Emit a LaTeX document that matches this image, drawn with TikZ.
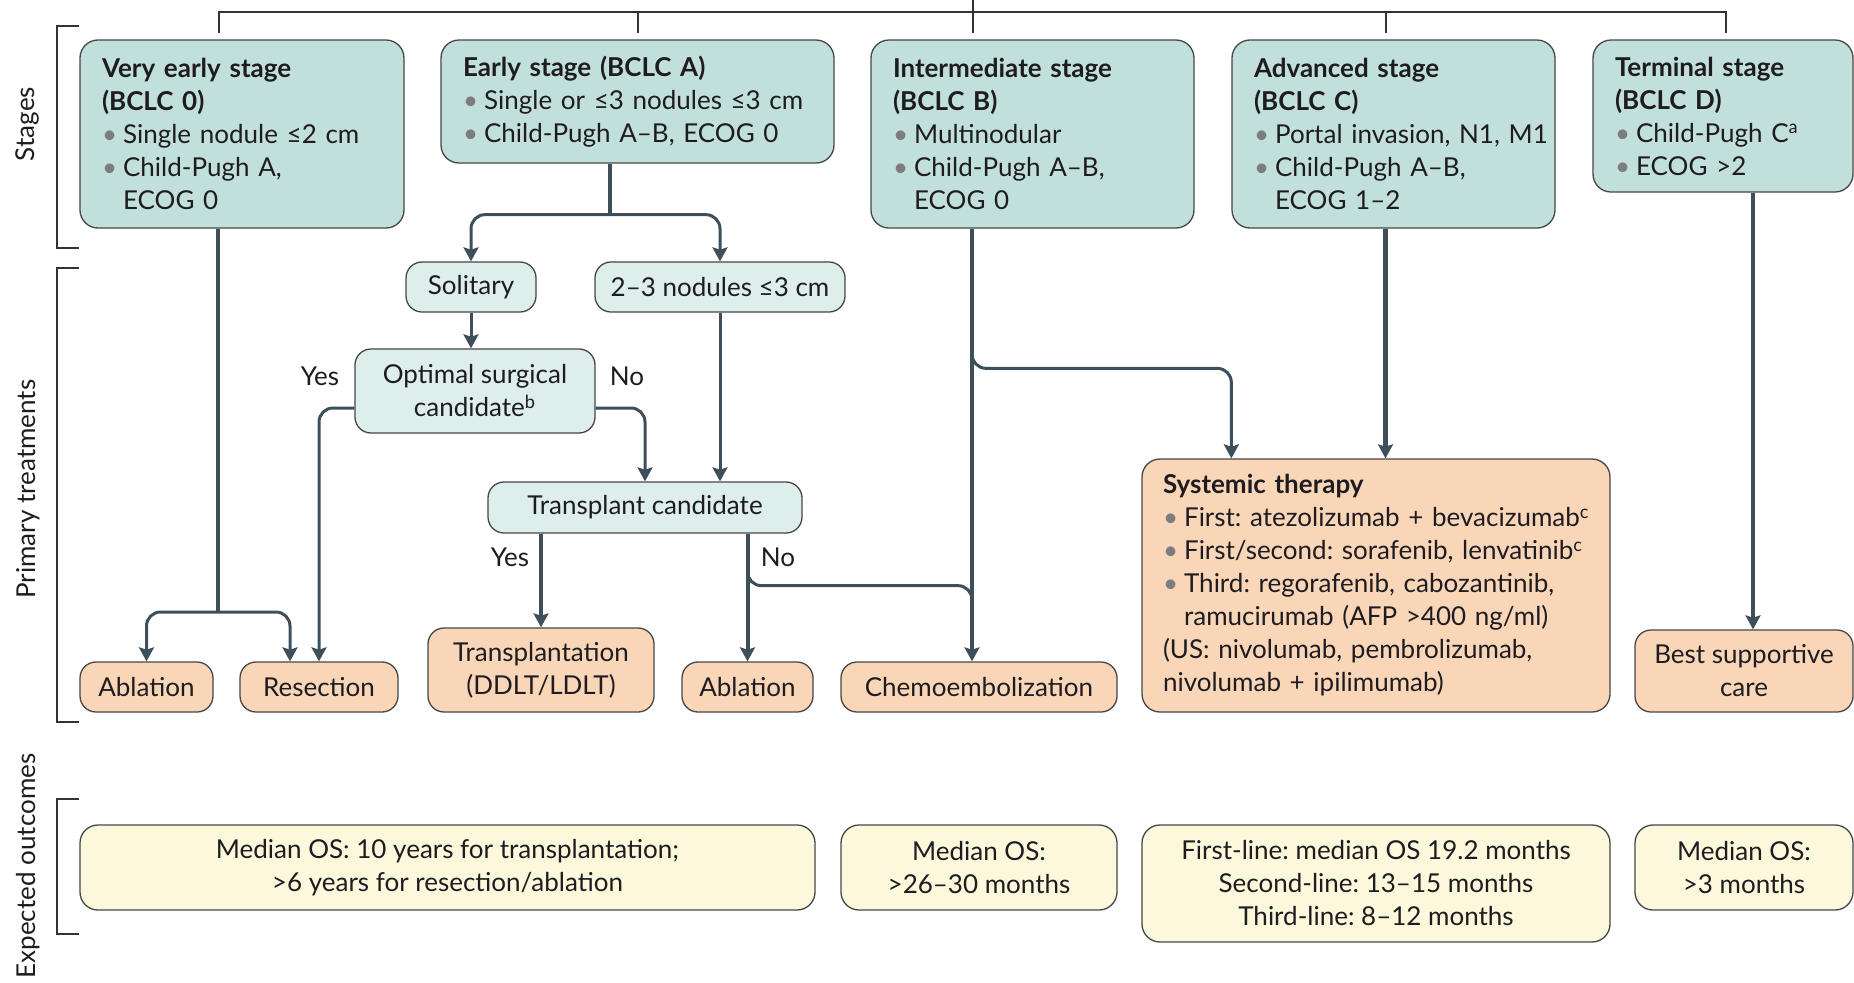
\documentclass[tikz,border=0pt]{standalone}
\usepackage{fontspec}
\setmainfont{Lato}
\usetikzlibrary{arrows.meta, positioning, calc}

\definecolor{stagefill} {RGB}{194, 224, 219}
\definecolor{decfill}   {RGB}{221, 238, 235}
\definecolor{treatfill} {RGB}{249, 214, 184}
\definecolor{outfill}   {RGB}{251, 248, 220}
\definecolor{boxline}   {RGB}{ 70,  70,  70}
\definecolor{flowcol}   {RGB}{ 61,  79,  90}
\definecolor{bulgray}   {RGB}{125, 125, 125}
\definecolor{textcol}   {RGB}{ 30,  28,  32}

\newcommand{\bul}[1]{\mbox{\textcolor{bulgray}{\textbullet}\hspace{3pt}#1}}
\newcommand{\bulind}[1]{\mbox{\hphantom{\textbullet}\hspace{3pt}#1}}
\frenchspacing

\begin{document}
\begin{tikzpicture}[x=0.5pt, y=-0.5pt,
	>={Stealth[length=7pt, width=7.5pt, inset=1.2pt]},
	box/.style={draw=boxline, line width=0.65pt, text=textcol, font=\fontsize{13}{16.5}\selectfont\frenchspacing},
	stagebox/.style={box, fill=stagefill, rounded corners=9pt, align=left, inner xsep=11pt, inner ysep=3pt},
	decbox/.style={box, fill=decfill, rounded corners=8pt, align=center, inner sep=2pt},
	treatbox/.style={box, fill=treatfill, rounded corners=8pt, align=center, inner sep=2pt},
	outbox/.style={box, fill=outfill, rounded corners=9pt, align=center, inner sep=2pt},
	flow/.style={draw=flowcol, line width=1.5pt, rounded corners=7pt},
	thickflow/.style={flow, line width=2pt},
	heavyflow/.style={flow, line width=2.5pt},
	bracketline/.style={draw=black!80, line width=0.8pt},
	sidelabel/.style={rotate=90, text=textcol, font=\fontsize{13}{16}\selectfont},
	flowlabel/.style={text=textcol, font=\fontsize{13}{16}\selectfont}
]
\useasboundingbox (0,0) rectangle (1854,982);

% stages
\node[stagebox, text width=140pt, minimum height=94pt] (VE) at (242,134)
	{\textbf{Very early stage}\\\textbf{(BCLC 0)}\\\bul{Single nodule ≤2 cm}\\\bul{Child-Pugh A,}\\\bulind{ECOG 0}};
\node[stagebox, text width=174.5pt, minimum height=61.5pt] (E) at (637.5,101.5)
	{\textbf{Early stage (BCLC A)}\\\bul{Single or ≤3 nodules ≤3 cm}\\\bul{Child-Pugh A–B, ECOG 0}};
\node[stagebox, text width=139.5pt, minimum height=94pt] (I) at (1032.5,134)
	{\textbf{Intermediate stage}\\\textbf{(BCLC B)}\\\bul{Multinodular}\\\bul{Child-Pugh A–B,}\\\bulind{ECOG 0}};
\node[stagebox, text width=139.5pt, minimum height=94pt] (A) at (1393.5,134)
	{\textbf{Advanced stage}\\\textbf{(BCLC C)}\\\bul{Portal invasion, N1, M1}\\\bul{Child-Pugh A–B,}\\\bulind{ECOG 1–2}};
\node[stagebox, text width=108pt, minimum height=76pt] (T) at (1723,116)
	{\textbf{Terminal stage}\\\textbf{(BCLC D)}\\\bul{Child-Pugh C\textsuperscript{a}}\\\bul{ECOG >2}};

% decisions
\node[decbox, minimum width=65pt, minimum height=25pt] (Sol) at (471,287) {Solitary};
\node[decbox, minimum width=125pt, minimum height=25pt] (Nod) at (720,287) {2–3 nodules ≤3 cm};
\node[decbox, minimum width=120pt, minimum height=42pt] (Opt) at (475,391) {Optimal surgical\\candidate\textsuperscript{b}};
\node[decbox, minimum width=157pt, minimum height=25.5pt] (Tr) at (645,507.5) {Transplant candidate};

% treatments
\node[treatbox, minimum width=66.5pt, minimum height=25pt] (AblA) at (146.5,687) {Ablation};
\node[treatbox, minimum width=79pt, minimum height=25pt] (Res) at (319,687) {Resection};
\node[treatbox, minimum width=113pt, minimum height=42pt] (Tx) at (541,670) {Transplantation\\(DDLT/LDLT)};
\node[treatbox, minimum width=65.5pt, minimum height=25pt] (AblB) at (747.5,687) {Ablation};
\node[treatbox, minimum width=138pt, minimum height=25pt] (Chemo) at (979,687) {Chemoembolization};
\node[stagebox, fill=treatfill, inner xsep=10.5pt, text width=213pt, minimum height=126.5pt] (Sys) at (1376,585.5)
	{\textbf{Systemic therapy}\\\bul{First: atezolizumab + bevacizumab\textsuperscript{c}}\\\bul{First/second: sorafenib, lenvatinib\textsuperscript{c}}\\\bul{Third: regorafenib, cabozantinib,}\\\bulind{ramucirumab (AFP >400 ng/ml)}\\\mbox{(US: nivolumab, pembrolizumab,}\\\mbox{nivolumab + ipilimumab)}};
\node[treatbox, minimum width=109pt, minimum height=41pt] (BSC) at (1744,671) {Best supportive\\care};

% outcomes
\node[outbox, minimum width=367.5pt, minimum height=42.5pt] (OutA) at (447.5,867.5) {Median OS: 10 years for transplantation;\\>6 years for resection/ablation};
\node[outbox, minimum width=138pt, minimum height=42.5pt] (OutB) at (979,867.5) {Median OS:\\>26–30 months};
\node[outbox, minimum width=234pt, minimum height=58.5pt] (OutC) at (1376,883.5) {First-line: median OS 19.2 months\\Second-line: 13–15 months\\Third-line: 8–12 months};
\node[outbox, minimum width=109pt, minimum height=42.5pt] (OutD) at (1744,867.5) {Median OS:\\>3 months};

% yes / no
\node[flowlabel] (yesOpt) at (320,376) {Yes};
\node[flowlabel] (noOpt) at (627,376) {No};
\node[flowlabel] (yesTr) at (510,557) {Yes};
\node[flowlabel] (noTr) at (778,557) {No};

% connectors
\coordinate (vesplit) at (218,612);
\coordinate (esplit) at ($(E.south)+(-28,51)$);
\coordinate (chemoin) at ($(Chemo.north)+(-7,0)$);
\coordinate (sysin) at ($(Sys.north west)+(90,0)$);
\coordinate (sysinA) at ($(A.south |- Sys.north)+(-8,0)$);
\coordinate (bscin) at ($(BSC.north)+(9,0)$);
\draw[thickflow] (vesplit |- VE.south) -- (vesplit);
\draw[flow,<->] (AblA.north) |- (vesplit) -| ($(Res.north)+(-29,0)$);
\draw[thickflow] (esplit |- E.south) -- (esplit);
\draw[flow,<->] (Sol.north) |- (esplit) -| (Nod.north);
\draw[flow,->] (Sol.south) -- (Sol.south |- Opt.north);
\draw[flow,->] ($(Opt.west)+(0,17)$) -| (Res.north);
\draw[flow,->] ($(Opt.east)+(0,17)$) -| (Tr.north);
\draw[flow,->] (Nod.south) -- (Nod.south |- Tr.north);
\draw[thickflow,->] (Tx.north |- Tr.south) -- (Tx.north);
\draw[thickflow,->] (AblB.north |- Tr.south) -- (AblB.north);
\draw[flow] ($(AblB.north |- Tr.south)+(0,30)$) |- ($(chemoin |- Tr.south)+(0,52)$) -- ($(chemoin |- Tr.south)+(0,100)$);
\draw[thickflow,->] (chemoin |- I.south) -- (chemoin);
\draw[flow,->] ($(chemoin |- I.south)+(0,115)$) |- ($(sysin)+(0,-90)$) -- (sysin);
\draw[heavyflow,->] (sysinA |- A.south) -- (sysinA);
\draw[thickflow,->] (bscin |- T.south) -- (bscin);

% brackets
\draw[bracketline] (219,33) |- (1726,12) -- (1726,33);
\foreach \x in {638,1386}{\draw[bracketline] (\x,12) -- (\x,33);}
\draw[bracketline] (973,0) -- (973,33);
\foreach \t/\b in {26/248, 268/722, 799/934}{\draw[bracketline] (79,\t) -| (57,\b) -- (79,\b);}
\node[sidelabel] (lblStages) at (27,124) {Stages};
\node[sidelabel] (lblPrimary) at (28,489) {Primary treatments};
\node[sidelabel] (lblOutcome) at (28,866) {Expected outcomes};
\end{tikzpicture}
\end{document}
